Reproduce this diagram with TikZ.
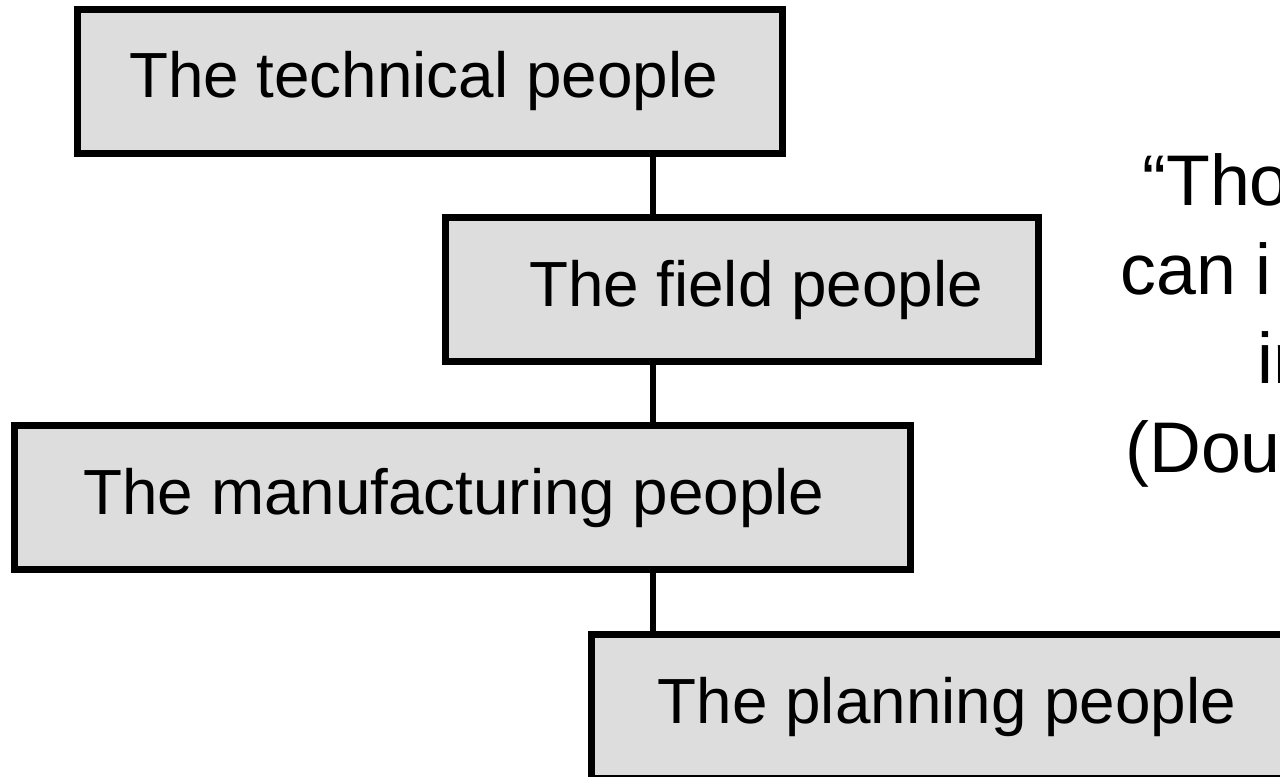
\documentclass[tikz,border=0pt]{standalone}
\usepackage{fontspec}
\setmainfont{Liberation Sans}
\usepackage{xcolor}
\usepackage{tikz}
\usetikzlibrary{positioning}

\definecolor{boxgray}{RGB}{221,221,221}

\begin{document}
\begin{tikzpicture}[
  box/.style={
    draw,
    fill=boxgray,
    line width=4.25pt,
    inner sep=0pt,
    minimum height=2.87cm,
    font=\fontsize{36.3pt}{43pt}\selectfont
  },
  quote/.style={
    anchor=base west,
    inner sep=0pt,
    font=\fontsize{40.8pt}{50pt}\selectfont
  },
  link/.style={line width=3.1pt}
]
\useasboundingbox (0,0) rectangle (25.6,-15.52);
\clip (0,0) rectangle (25.6,-15.52);

% the four groups, one below the other
\node[box,minimum width=14.09cm] (technical) at (8.60,-1.63)
  {The technical people\hspace*{0.26cm}};
\node[box,minimum width=11.85cm] (field) at (14.84,-5.79)
  {\hspace*{0.56cm}The field people};
\node[box,minimum width=17.91cm] (manufacturing) at (9.25,-9.95)
  {The manufacturing people\hspace*{0.34cm}};
\node[box,minimum width=14.21cm] (planning) at (18.94,-14.13)
  {The planning people};

% one vertical line runs through all of them
\coordinate (spine) at (13.06,0);
\draw[link] (technical.south -| spine) -- (field.north -| spine);
\draw[link] (field.south -| spine) -- (manufacturing.north -| spine);
\draw[link] (manufacturing.south -| spine) -- (planning.north -| spine);

% quotation at the right edge
\node[quote] (quote1) at (22.84,-4.10) {“Tho};
\node[quote] (quote2) at (22.40,-5.88) {can i};
\node[quote] (quote3) at (25.14,-7.66) {in};
\node[quote] (quote4) at (22.50,-9.44) {(Dou};
\end{tikzpicture}
\end{document}
